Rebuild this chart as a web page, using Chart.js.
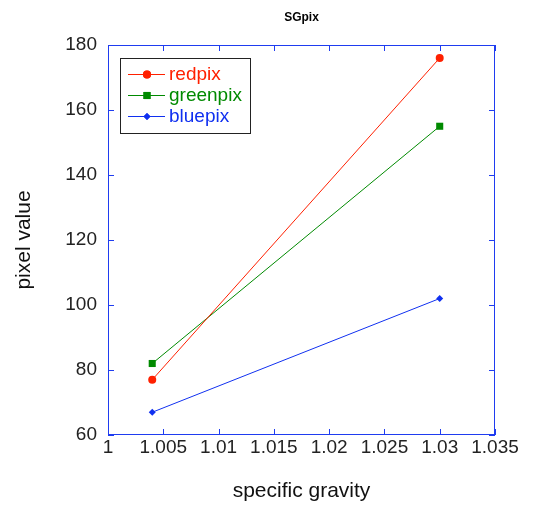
<!DOCTYPE html>
<html>
<head>
<meta charset="utf-8">
<script src="https://cdn.jsdelivr.net/npm/chart.js@4.4.1/dist/chart.umd.min.js"></script>
<style>
  html, body { margin: 0; padding: 0; background: #fff; }
  #wrap { width: 537px; height: 506px; }
</style>
</head>
<body>
<div id="wrap"><canvas id="sgChart" width="537" height="506"></canvas></div>
<script>
// data
const gravity = [1.004, 1.03];
const redpix = [77, 176];
const greenpix = [82, 155];
const bluepix = [67, 102];
const xTicks = [1, 1.005, 1.01, 1.015, 1.02, 1.025, 1.03, 1.035];
const yTicks = [60, 80, 100, 120, 140, 160, 180];

const axisBlue = '#1f3cf0';
const font = '"Liberation Sans", Arial, Helvetica, sans-serif';

const series = [
    { label: 'redpix', data: redpix, color: '#ff2000', style: 'circle', radius: 4 },
    { label: 'greenpix', data: greenpix, color: '#008a00', style: 'rect', radius: 5 },
    { label: 'bluepix', data: bluepix, color: '#1030f0', style: 'rectRot', radius: 3.5 }
];

// box, inward ticks, title and the boxed legend
const framePlugin = {
    id: 'frame',
    afterDraw(chart) {
        const { ctx, chartArea: a, scales } = chart;
        ctx.save();
        ctx.strokeStyle = axisBlue;
        ctx.lineWidth = 1;
        ctx.strokeRect(a.left + 0.5, a.top + 0.5, a.right - a.left - 1, a.bottom - a.top - 1);
        const len = 6;
        ctx.beginPath();
        scales.x.ticks.forEach(t => {
            const px = Math.round(scales.x.getPixelForValue(t.value)) + 0.5;
            ctx.moveTo(px, a.bottom); ctx.lineTo(px, a.bottom - len);
            ctx.moveTo(px, a.top); ctx.lineTo(px, a.top + len);
        });
        scales.y.ticks.forEach(t => {
            const py = Math.round(scales.y.getPixelForValue(t.value)) + 0.5;
            ctx.moveTo(a.left, py); ctx.lineTo(a.left + len, py);
            ctx.moveTo(a.right, py); ctx.lineTo(a.right - len, py);
        });
        ctx.stroke();

        // title
        ctx.fillStyle = '#000';
        ctx.font = 'bold 12px ' + font;
        ctx.textAlign = 'center';
        ctx.textBaseline = 'middle';
        ctx.fillText('SGpix', (a.left + a.right) / 2, 18);

        // legend
        const bx = a.left + 12, by = a.top + 13, bw = 130, bh = 75;
        ctx.fillStyle = '#fff';
        ctx.fillRect(bx, by, bw, bh);
        ctx.strokeStyle = '#222';
        ctx.strokeRect(bx + 0.5, by + 0.5, bw, bh);
        ctx.font = '19px ' + font;
        ctx.textAlign = 'left';
        series.forEach((s, i) => {
            const y = by + 16 + i * 21;
            ctx.strokeStyle = s.color;
            ctx.beginPath();
            ctx.moveTo(bx + 8, y + 0.5); ctx.lineTo(bx + 45, y + 0.5);
            ctx.stroke();
            ctx.fillStyle = s.color;
            Chart.helpers.drawPoint(ctx, { pointStyle: s.style, radius: s.radius, borderWidth: 0 }, bx + 27, y + 0.5);
            ctx.fill();
            ctx.fillText(s.label, bx + 49, y + 1);
        });
        ctx.restore();
    }
};

new Chart(document.getElementById('sgChart'), {
    type: 'line',
    data: {
        datasets: series.map(s => ({
            label: s.label,
            data: gravity.map((g, i) => ({ x: g, y: s.data[i] })),
            borderColor: s.color,
            backgroundColor: s.color,
            borderWidth: 1,
            pointStyle: s.style,
            pointRadius: s.radius,
            pointBorderWidth: 0,
            tension: 0
        }))
    },
    options: {
        responsive: false,
        animation: false,
        layout: { padding: { top: 45, right: 42, left: 0, bottom: 0 } },
        plugins: {
            legend: { display: false },
            title: { display: false },
            tooltip: { enabled: false }
        },
        scales: {
            x: {
                type: 'linear',
                min: 1,
                max: 1.035,
                afterBuildTicks: scale => { scale.ticks = xTicks.map(v => ({ value: v })); },
                afterFit: scale => { scale.height = 71; },
                grid: { display: false, drawTicks: false },
                border: { display: false },
                ticks: {
                    color: '#222',
                    padding: 1,
                    maxRotation: 0,
                    autoSkip: false,
                    font: { family: font, size: 19 },
                    callback: v => String(parseFloat(v.toFixed(3)))
                },
                title: {
                    display: true,
                    text: 'specific gravity',
                    color: '#111',
                    font: { family: font, size: 21 },
                    padding: { top: 4, bottom: 2 }
                }
            },
            y: {
                min: 60,
                max: 180,
                afterBuildTicks: scale => { scale.ticks = yTicks.map(v => ({ value: v })); },
                afterFit: scale => { scale.width = 108; },
                grid: { display: false, drawTicks: false },
                border: { display: false },
                ticks: {
                    color: '#222',
                    padding: 11,
                    font: { family: font, size: 19 }
                },
                title: {
                    display: true,
                    text: 'pixel value',
                    color: '#111',
                    font: { family: font, size: 21 },
                    padding: { top: 12, bottom: 0 }
                }
            }
        }
    },
    plugins: [framePlugin]
});
</script>
</body>
</html>
